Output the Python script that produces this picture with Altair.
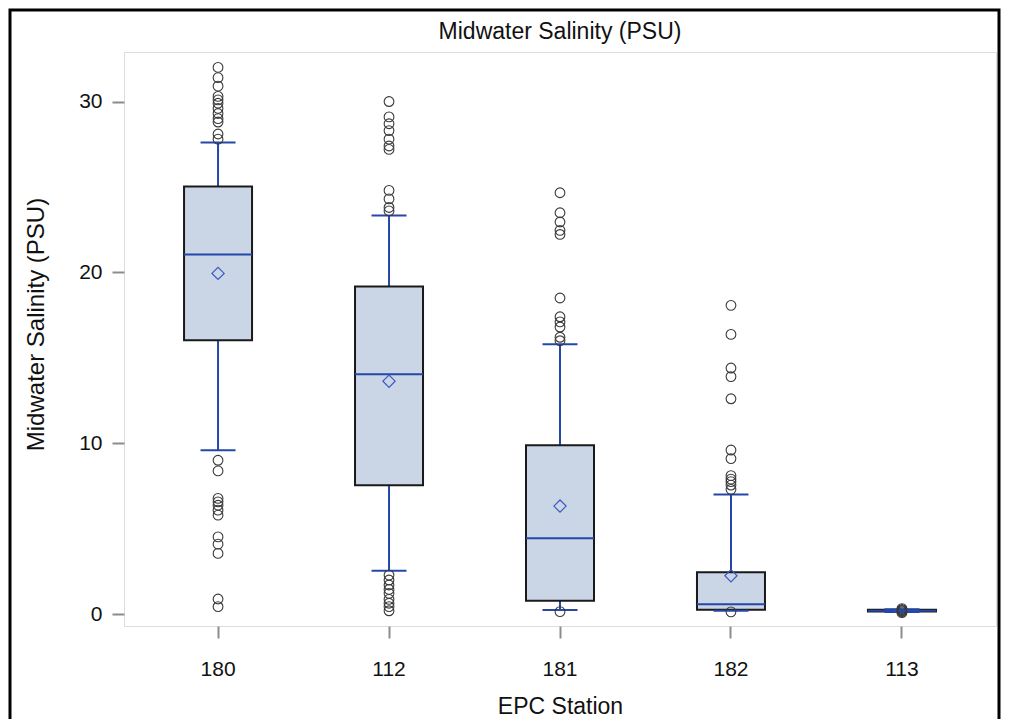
import altair as alt
import pandas as pd

# ---- data ----
stations = ["180", "112", "181", "182", "113"]
q1 = [16.02, 7.54, 0.78, 0.25, 0.15]
median = [21.05, 14.04, 4.44, 0.57, 0.20]
q3 = [25.03, 19.18, 9.88, 2.44, 0.25]
mean = [19.94, 13.63, 6.32, 2.24, 0.20]
whisker_low = [9.59, 2.53, 0.23, 0.20, 0.12]
whisker_high = [27.6, 23.33, 15.79, 7.0, 0.28]

outliers_180 = [32.0, 31.4, 30.9, 30.3, 30.1, 29.9, 29.6, 29.3, 29.0, 28.8, 28.1, 27.8,
                9.0, 8.38, 6.77, 6.57, 6.37, 6.08, 5.79, 4.52, 4.09, 3.55, 0.88, 0.43]
outliers_112 = [30.0, 29.1, 28.7, 28.3, 27.8, 27.4, 27.2, 24.8, 24.3, 23.8, 23.6,
                2.28, 1.99, 1.70, 1.44, 1.21, 0.86, 0.63, 0.43, 0.19]
outliers_181 = [24.66, 23.49, 22.95, 22.46, 22.22, 18.5, 17.4, 17.1, 16.8, 16.2, 16.0, 0.14]
outliers_182 = [18.07, 16.37, 14.4, 13.9, 12.6, 9.6, 9.1, 8.1, 7.9, 7.75, 7.55, 7.3, 0.13]
outliers_113 = [0.08, 0.14, 0.2, 0.26, 0.32]

stats = pd.DataFrame({
    "station": stations, "q1": q1, "median": median, "q3": q3,
    "mean": mean, "wlo": whisker_low, "whi": whisker_high,
})
out_rows = []
for st, vals in zip(stations, [outliers_180, outliers_112, outliers_181, outliers_182, outliers_113]):
    for v in vals:
        out_rows.append({"station": st, "value": v})
outs = pd.DataFrame(out_rows)

FONT = "Liberation Sans"
BLUE = "#2447a8"

x_enc = alt.X(
    "station:N", sort=stations,
    scale=alt.Scale(type="band", paddingInner=0, paddingOuter=0.05),
    axis=alt.Axis(
        title="EPC Station", labelAngle=0, domain=False, grid=False,
        tickSize=12, tickWidth=2, tickColor="#8c8c8c",
        labelFontSize=21, labelFont=FONT, labelColor="#111",
        labelBaseline="alphabetic", labelPadding=37,
        titleFontSize=23, titleFont=FONT, titleFontWeight="normal", titleColor="#111",
        titleBaseline="alphabetic", titleY=87,
    ),
)
y_scale = alt.Scale(domain=[-0.7, 32.9], nice=False, zero=False)
y_axis = alt.Axis(
    title="Midwater Salinity (PSU)", values=[0, 10, 20, 30], domain=False, grid=False,
    tickSize=12, tickWidth=2, tickColor="#8c8c8c",
    labelFontSize=21, labelFont=FONT, labelColor="#111", labelPadding=10,
    titleFontSize=24, titleFont=FONT, titleFontWeight="normal", titleColor="#111",
    titleAngle=270, titleBaseline="alphabetic", titleAlign="center",
    titleX=-81, titleY=272,
)

base = alt.Chart(stats)

whiskers = base.mark_rule(color=BLUE, strokeWidth=2, opacity=1).encode(
    x=x_enc, y=alt.Y("wlo:Q", scale=y_scale, axis=y_axis), y2="whi:Q")
box = base.mark_bar(size=68, fill="#cad5e6", stroke="#1a1a1a", strokeWidth=2, opacity=1).encode(
    x=x_enc, y=alt.Y("q1:Q", scale=y_scale, axis=y_axis), y2="q3:Q")
med = base.mark_tick(size=68, thickness=2, color=BLUE, opacity=1).encode(
    x=x_enc, y=alt.Y("median:Q", scale=y_scale, axis=y_axis))
cap_lo = base.mark_tick(size=35, thickness=2, color=BLUE, opacity=1).encode(
    x=x_enc, y=alt.Y("wlo:Q", scale=y_scale, axis=y_axis))
cap_hi = base.mark_tick(size=35, thickness=2, color=BLUE, opacity=1).encode(
    x=x_enc, y=alt.Y("whi:Q", scale=y_scale, axis=y_axis))
mean_pts = base.mark_point(shape="diamond", filled=False, size=150, color="#3b5bbf",
                           strokeWidth=1.2, opacity=1).encode(
    x=x_enc, y=alt.Y("mean:Q", scale=y_scale, axis=y_axis))
out_pts = alt.Chart(outs).mark_point(shape="circle", filled=False, size=95, color="#3a3a3a",
                                     strokeWidth=1.1, opacity=1).encode(
    x=x_enc, y=alt.Y("value:Q", scale=y_scale, axis=y_axis))

frame = alt.Chart(pd.DataFrame({"k": [0]})).mark_rect(
    fill="transparent", stroke="#000000", strokeWidth=3).encode(
    x=alt.value(-114), x2=alt.value(875), y=alt.value(-42), y2=alt.value(720))

chart = alt.layer(whiskers, box, med, cap_lo, cap_hi, mean_pts, out_pts, frame).properties(
    width=872, height=574,
    autosize=alt.AutoSizeParams(type="none"),
    padding={"left": 116, "top": 44, "right": 5, "bottom": 93},
    title=alt.TitleParams("Midwater Salinity (PSU)", fontSize=23, font=FONT,
                          fontWeight="normal", color="#111", anchor="middle",
                          baseline="alphabetic", offset=-53),
).configure_view(stroke="#8c8c8c", strokeWidth=2).configure(background="white")

chart.save("out.html", embed_options={"renderer": "svg", "actions": False})
